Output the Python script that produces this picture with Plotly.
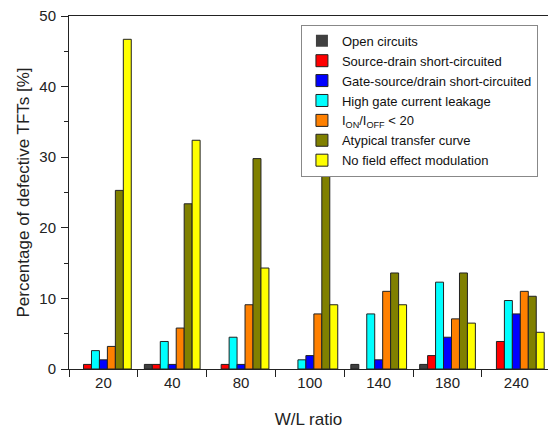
import plotly.graph_objects as go

categories = ["20", "40", "80", "100", "140", "180", "240"]

open_circuits = [0, 0.65, 0, 0, 0.65, 0.65, 0]
source_drain_short = [0.65, 0.65, 0.65, 0, 0, 1.9, 3.9]
high_gate_leakage = [2.6, 3.9, 4.5, 1.3, 7.8, 12.3, 9.7]
gate_source_drain_short = [1.3, 0.65, 0.65, 1.9, 1.3, 4.5, 7.8]
ion_ioff_low = [3.2, 5.8, 9.1, 7.8, 11.0, 7.1, 11.0]
atypical_transfer = [25.3, 23.4, 29.8, 31.2, 13.6, 13.6, 10.3]
no_field_effect = [46.7, 32.4, 14.3, 9.1, 9.1, 6.5, 5.2]

# drawing order in the groups (cyan drawn before blue), legend order via legendrank
series = [
    ("Open circuits", open_circuits, "#404040", 1),
    ("Source-drain short-circuited", source_drain_short, "#FF0000", 2),
    ("High gate current leakage", high_gate_leakage, "#00FFFF", 4),
    ("Gate-source/drain short-circuited", gate_source_drain_short, "#0000FF", 3),
    ("I<sub>ON</sub>/I<sub>OFF</sub> &lt; 20", ion_ioff_low, "#FF8000", 5),
    ("Atypical transfer curve", atypical_transfer, "#808000", 6),
    ("No field effect modulation", no_field_effect, "#FFFF00", 7),
]

fig = go.Figure()
for name, vals, color, rank in series:
    fig.add_trace(go.Bar(
        x=categories, y=vals, name=name, legendrank=rank,
        marker=dict(color=color,
                    line=dict(color="#222222", width=[1 if v else 0 for v in vals])),
    ))

font = "Liberation Sans, Arial, sans-serif"
n = len(categories)
xr = [-0.5, n - 0.54]

fig.update_layout(
    width=548, height=429,
    margin=dict(l=69, r=0, t=16, b=60),
    paper_bgcolor="white", plot_bgcolor="white",
    barmode="group", bargap=0.19, bargroupgap=0,
    font=dict(family=font, size=15, color="#222222"),
    showlegend=True,
    legend=dict(
        x=0.979, y=0.975, xanchor="right", yanchor="top",
        bordercolor="#888888", borderwidth=1, bgcolor="white",
        font=dict(size=13, color="#111111"),
        tracegroupgap=0, itemwidth=30,
    ),
    xaxis=dict(
        type="category", categoryorder="array", categoryarray=categories,
        range=xr, showline=True, linecolor="#222222", linewidth=1, mirror=True,
        ticks="outside", tickson="boundaries", ticklen=7, tickcolor="#222222",
        showgrid=False, zeroline=False,
        title=dict(text="W/L ratio", font=dict(size=17), standoff=26),
        tickfont=dict(size=15),
    ),
    xaxis2=dict(
        overlaying="x", side="top", range=xr, showline=False,
        tickmode="array", tickvals=[i + 0.5 for i in range(n - 1)],
        ticks="inside", ticklen=7, tickcolor="#222222",
        showticklabels=False, showgrid=False, zeroline=False,
    ),
    yaxis=dict(
        range=[0, 50], dtick=10, showline=True, linecolor="#222222", linewidth=1,
        mirror=True, ticks="outside", ticklen=7, tickcolor="#222222",
        minor=dict(dtick=5, ticks="outside", ticklen=4, tickcolor="#222222", showgrid=False),
        showgrid=False, zeroline=False,
        title=dict(text="Percentage of defective TFTs [%]", font=dict(size=17), standoff=5),
        tickfont=dict(size=15), ticklabelstandoff=2,
    ),
    yaxis2=dict(
        overlaying="y", side="right", range=[0, 50], dtick=10,
        ticks="inside", ticklen=6, tickcolor="#222222",
        minor=dict(dtick=5, ticks="inside", ticklen=3, tickcolor="#222222", showgrid=False),
        showticklabels=False, showgrid=False, zeroline=False, showline=False,
    ),
)

fig.write_html("out.html")
